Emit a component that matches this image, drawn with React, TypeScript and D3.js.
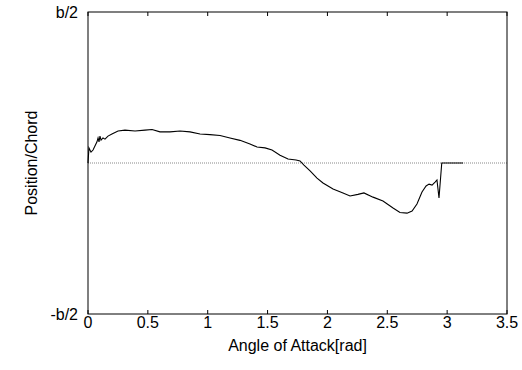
import React from "react";
import * as d3 from "d3";

const angle = [0, 0.008, 0.025, 0.042, 0.058, 0.075, 0.084, 0.092, 0.1, 0.109, 0.125, 0.142, 0.167, 0.2, 0.251, 0.309, 0.393, 0.476, 0.535, 0.601, 0.685, 0.769, 0.852, 0.936, 1.019, 1.103, 1.186, 1.27, 1.353, 1.412, 1.479, 1.537, 1.604, 1.671, 1.738, 1.771, 1.804, 1.855, 1.913, 1.963, 2.047, 2.13, 2.189, 2.255, 2.305, 2.381, 2.464, 2.548, 2.606, 2.665, 2.707, 2.748, 2.79, 2.824, 2.849, 2.874, 2.899, 2.915, 2.932, 2.955, 3.133];
const position = [0, 0.05, 0.036, 0.043, 0.056, 0.07, 0.083, 0.07, 0.089, 0.076, 0.083, 0.079, 0.089, 0.096, 0.106, 0.109, 0.106, 0.109, 0.111, 0.103, 0.103, 0.106, 0.103, 0.096, 0.094, 0.091, 0.083, 0.075, 0.063, 0.053, 0.05, 0.043, 0.026, 0.013, 0.01, 0.007, -0.007, -0.026, -0.05, -0.066, -0.086, -0.099, -0.109, -0.104, -0.099, -0.113, -0.126, -0.149, -0.164, -0.166, -0.159, -0.136, -0.096, -0.076, -0.07, -0.073, -0.063, -0.056, -0.116, 0, 0];
const xTicks = [0, 0.5, 1, 1.5, 2, 2.5, 3, 3.5];
const yTickValues = [-0.5, 0.5];
const yTickLabels = ["-b/2", "b/2"];

export default function App() {
  const W = 522, H = 370;
  const left = 88, right = 507, top = 12, bottom = 314;
  const x = d3.scaleLinear().domain([0, 3.5]).range([left, right]);
  const y = d3.scaleLinear().domain([-0.5, 0.5]).range([bottom, top]);
  const pts = angle.map((a, i) => [a, position[i]] as [number, number]);
  const line = d3.line<[number, number]>().x(d => x(d[0])).y(d => y(d[1]));
  const font = "'Liberation Sans', Arial, sans-serif";
  const fs = 16;
  return (
    <svg width={W} height={H} style={{ position: "absolute", left: 0, top: 0, background: "#fff" }}>
      <line x1={left} x2={right} y1={y(0)} y2={y(0)} stroke="#888" strokeWidth={1} strokeDasharray="1,1" />
      <path d={line(pts) || ""} fill="none" stroke="#000" strokeWidth={1.1} />
      <rect x={left} y={top} width={right - left} height={bottom - top} fill="none" stroke="#000" strokeWidth={1} />
      {xTicks.map(t => (
        <g key={t}>
          <line x1={x(t)} x2={x(t)} y1={bottom} y2={bottom - 4} stroke="#000" />
          <line x1={x(t)} x2={x(t)} y1={top} y2={top + 4} stroke="#000" />
          <text x={x(t)} y={328} textAnchor="middle" fontFamily={font} fontSize={fs}>{t}</text>
        </g>
      ))}
      {yTickValues.map((v, i) => (
        <text key={v} x={78} y={y(v) + 6} textAnchor="end" fontFamily={font} fontSize={fs}>{yTickLabels[i]}</text>
      ))}
      <text x={(left + right) / 2} y={351} textAnchor="middle" fontFamily={font} fontSize={fs}>Angle of Attack[rad]</text>
      <text transform={`translate(37,${(top + bottom) / 2}) rotate(-90)`} textAnchor="middle" fontFamily={font} fontSize={fs}>Position/Chord</text>
    </svg>
  );
}
